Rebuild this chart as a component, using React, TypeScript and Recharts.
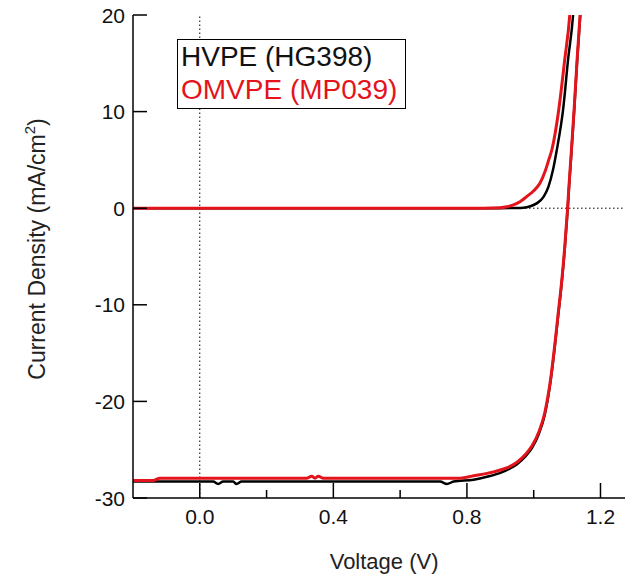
import { LineChart, Line, XAxis, YAxis, ReferenceLine } from "recharts";

// J-V sweeps: voltage (V) and current density (mA/cm2)
const hvpeDarkV = [-0.2, 0.9, 0.94, 0.969, 0.99, 1.009, 1.03, 1.044, 1.058, 1.069, 1.088, 1.103, 1.118, 1.122];
const hvpeDarkJ = [0, 0, 0.02, 0.05, 0.2, 0.5, 1.2, 2.2, 4.0, 6.0, 10.2, 15.4, 20, 22];

const omvpeDarkV = [-0.2, 0.85, 0.899, 0.92, 0.939, 0.96, 0.979, 1.0, 1.019, 1.035, 1.045, 1.054, 1.075, 1.093, 1.108, 1.112];
const omvpeDarkJ = [0, 0, 0.05, 0.15, 0.34, 0.7, 1.2, 1.8, 2.6, 3.9, 5.0, 6.0, 10.2, 15.4, 20, 22];

const hvpeLightV = [
  -0.2, 0.04, 0.055, 0.07, 0.1, 0.11, 0.125, 0.72, 0.74, 0.76, 0.82, 0.86, 0.9, 0.925, 0.95, 0.975,
  0.995, 1.015, 1.033, 1.043, 1.051, 1.062, 1.073, 1.084, 1.093, 1.1015, 1.106, 1.111, 1.121, 1.13, 1.139, 1.143,
];
const hvpeLightJ = [
  -28.3, -28.3, -28.55, -28.3, -28.3, -28.55, -28.3, -28.3, -28.55, -28.3, -28.1, -27.8, -27.4, -27.0, -26.5, -25.7,
  -24.8, -23.4, -21.4, -19.6, -17.8, -14.7, -11.2, -7.7, -4.2, -0.2, 2.3, 4.8, 10.0, 15.2, 19.8, 22,
];

const omvpeLightV = [
  -0.2, -0.14, -0.12, 0.32, 0.335, 0.345, 0.355, 0.37, 0.78, 0.82, 0.86, 0.9, 0.925, 0.95, 0.975, 0.995,
  1.015, 1.033, 1.043, 1.051, 1.062, 1.073, 1.084, 1.093, 1.1015, 1.106, 1.111, 1.121, 1.13, 1.139, 1.143,
];
const omvpeLightJ = [
  -28.2, -28.2, -27.95, -27.95, -27.75, -27.95, -27.75, -27.95, -27.95, -27.7, -27.45, -27.1, -26.8, -26.3, -25.5, -24.6,
  -23.2, -21.2, -19.4, -17.6, -14.5, -11.0, -7.5, -4.0, 0, 2.5, 5.0, 10.2, 15.4, 20, 22,
];

const voltageTicks = [0, 0.2, 0.4, 0.6, 0.8, 1.0, 1.2];
const labeledVoltages = [0, 0.4, 0.8, 1.2];
const currentTicks = [-30, -20, -10, 0, 10, 20];

const BLACK = "#000000";
const RED = "#e3141b";

const series = [
  { name: "HVPE (HG398)", color: BLACK, width: 2.5 },
  { name: "OMVPE (MP039)", color: RED, width: 3 },
];

const toPoints = (v: number[], j: number[]) => v.map((x, i) => ({ v: x, j: j[i] }));

const BottomTick = (props: any) => {
  const { x, y, payload } = props;
  const major = labeledVoltages.includes(payload.value);
  return (
    <g>
      <line x1={x} y1={y} x2={x} y2={y - (major ? 15 : 8)} stroke={BLACK} strokeWidth={1.5} />
      {major && (
        <text x={x} y={y + 26} textAnchor="middle" fontSize={21} fill="#111">
          {payload.value.toFixed(1)}
        </text>
      )}
    </g>
  );
};

const TopTick = (props: any) => {
  const { x, y, payload } = props;
  const major = labeledVoltages.includes(payload.value);
  return <line x1={x} y1={y} x2={x} y2={y + (major ? 15 : 8)} stroke={BLACK} strokeWidth={1.5} />;
};

const LeftTick = (props: any) => {
  const { x, y, payload } = props;
  return (
    <g>
      <line x1={x} y1={y} x2={x + 14} y2={y} stroke={BLACK} strokeWidth={1.5} />
      <text x={x - 8} y={y + 7.5} textAnchor="end" fontSize={21} fill="#111">
        {payload.value}
      </text>
    </g>
  );
};

const RightTick = (props: any) => {
  const { x, y } = props;
  return <line x1={x - 6} y1={y} x2={x} y2={y} stroke={BLACK} strokeWidth={1.5} />;
};

const CurrentTitle = () => {
  const cx = 45;
  const cy = 249;
  return (
    <text x={cx} y={cy} transform={`rotate(-90 ${cx} ${cy})`} textAnchor="middle" fontSize={23} fill="#222">
      Current Density (mA/cm<tspan dy={-10} fontSize={15}>2</tspan>
      <tspan dy={10}>)</tspan>
    </text>
  );
};

export default function App() {
  return (
    <div
      style={{
        position: "fixed",
        left: 0,
        top: 0,
        width: 625,
        height: 574,
        overflow: "hidden",
        background: "#fff",
        fontFamily: "'Liberation Sans', Arial, sans-serif",
      }}
    >
      <LineChart width={640} height={574} margin={{ top: 15, right: 12.8, bottom: 0, left: 0 }}>
        <XAxis
          xAxisId="bottom"
          dataKey="v"
          type="number"
          domain={[-0.2, 1.28]}
          allowDataOverflow
          ticks={voltageTicks}
          interval={0}
          tickSize={0}
          tickMargin={0}
          tick={<BottomTick />}
          height={76}
          axisLine={{ stroke: BLACK, strokeWidth: 1.5 }}
          label={{ value: "Voltage (V)", position: "insideBottom", offset: 5, dx: 4, fontSize: 22, fill: "#222" }}
        />
        <XAxis
          xAxisId="top"
          orientation="top"
          dataKey="v"
          type="number"
          domain={[-0.2, 1.28]}
          allowDataOverflow
          ticks={voltageTicks}
          interval={0}
          tickSize={0}
          tickMargin={0}
          tick={<TopTick />}
          height={0}
          axisLine={{ stroke: BLACK, strokeWidth: 1.5 }}
        />
        <YAxis
          yAxisId="left"
          type="number"
          domain={[-30, 20]}
          allowDataOverflow
          ticks={currentTicks}
          interval={0}
          tickSize={0}
          tickMargin={0}
          tick={<LeftTick />}
          width={133}
          axisLine={{ stroke: BLACK, strokeWidth: 1.5 }}
          label={<CurrentTitle />}
        />
        <YAxis
          yAxisId="right"
          orientation="right"
          type="number"
          domain={[-30, 20]}
          allowDataOverflow
          ticks={currentTicks}
          interval={0}
          tickSize={0}
          tickMargin={0}
          tick={<RightTick />}
          width={0}
          axisLine={{ stroke: BLACK, strokeWidth: 1.5 }}
        />
        <ReferenceLine xAxisId="bottom" yAxisId="left" x={0} stroke={BLACK} strokeWidth={1} strokeDasharray="1.5 2.5" />
        <ReferenceLine xAxisId="bottom" yAxisId="left" y={0} stroke={BLACK} strokeWidth={1} strokeDasharray="1.5 2.5" />
        <Line
          xAxisId="bottom"
          yAxisId="left"
          data={toPoints(hvpeDarkV, hvpeDarkJ)}
          dataKey="j"
          type="monotone"
          stroke={series[0].color}
          strokeWidth={series[0].width}
          dot={false}
          isAnimationActive={false}
        />
        <Line
          xAxisId="bottom"
          yAxisId="left"
          data={toPoints(hvpeLightV, hvpeLightJ)}
          dataKey="j"
          type="monotone"
          stroke={series[0].color}
          strokeWidth={series[0].width}
          dot={false}
          isAnimationActive={false}
        />
        <Line
          xAxisId="bottom"
          yAxisId="left"
          data={toPoints(omvpeDarkV, omvpeDarkJ)}
          dataKey="j"
          type="monotone"
          stroke={series[1].color}
          strokeWidth={series[1].width}
          dot={false}
          isAnimationActive={false}
        />
        <Line
          xAxisId="bottom"
          yAxisId="left"
          data={toPoints(omvpeLightV, omvpeLightJ)}
          dataKey="j"
          type="monotone"
          stroke={series[1].color}
          strokeWidth={series[1].width}
          dot={false}
          isAnimationActive={false}
        />
      </LineChart>
      <div
        style={{
          position: "absolute",
          left: 177,
          top: 39,
          border: "1.5px solid #000",
          background: "#fff",
          padding: "0 8px 2px 3px",
          fontSize: 28,
          lineHeight: "33px",
          whiteSpace: "nowrap",
        }}
      >
        {series.map((s) => (
          <div key={s.name} style={{ color: s.color === BLACK ? "#111" : s.color }}>
            {s.name}
          </div>
        ))}
      </div>
    </div>
  );
}
